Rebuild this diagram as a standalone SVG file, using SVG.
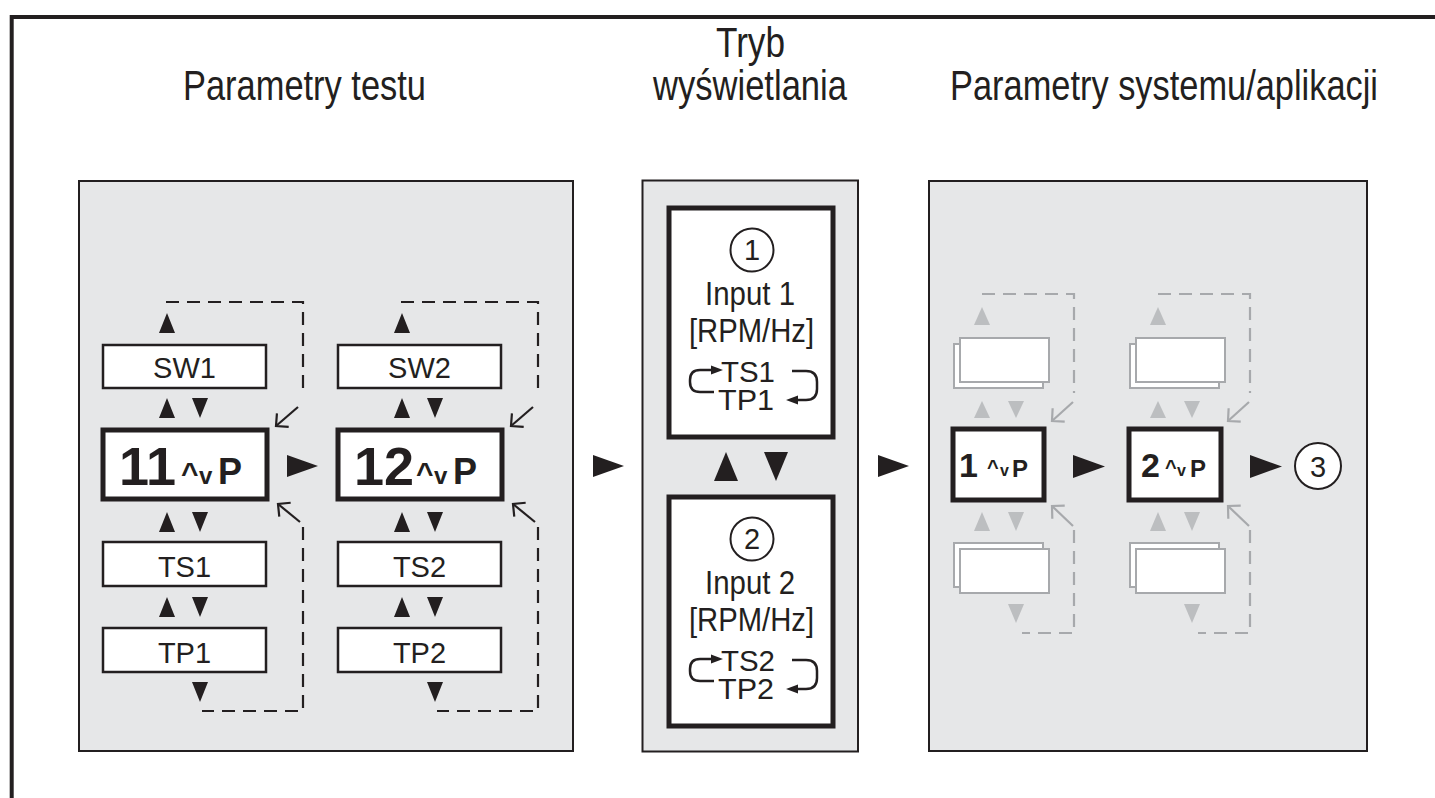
<svg xmlns="http://www.w3.org/2000/svg" width="1435" height="798" viewBox="0 0 1435 798">
<defs>
<style>
.frame{fill:none;stroke:#231f20;stroke-width:4}
.panel{fill:#e6e7e8;stroke:#231f20;stroke-width:2}
.box{fill:#fff;stroke:#231f20;stroke-width:2.5}
.thick{fill:#fff;stroke:#231f20;stroke-width:5}
.ghost{fill:#fff;stroke:#a7a9ac;stroke-width:2}
.tri{fill:#231f20}
.gtri{fill:#bcbec0}
.dash{fill:none;stroke:#231f20;stroke-width:2.2;stroke-dasharray:13 8}
.gdash{fill:none;stroke:#a7a9ac;stroke-width:2.2;stroke-dasharray:13 8}
.diag{fill:none;stroke:#231f20;stroke-width:2.2;marker-end:url(#open)}
.gdiag{fill:none;stroke:#a7a9ac;stroke-width:2.2;marker-end:url(#gopen)}
.loop{fill:none;stroke:#231f20;stroke-width:2.5}
.circ{fill:#fff;stroke:#231f20;stroke-width:2}
text{font-family:"Liberation Sans",Arial,sans-serif;fill:#231f20}
.title{font-size:42px}
.lbl{font-size:29px;text-anchor:middle}
.mid{font-size:34px}
.tstp{font-size:30px}
.num{font-size:29px;text-anchor:middle}
.b{font-weight:bold}
</style>
<marker id="open" markerUnits="userSpaceOnUse" markerWidth="24" markerHeight="24" viewBox="-12 -12 24 24" refX="0" refY="0" orient="auto">
<path d="M-9,-9 L0,0 L-9,9" fill="none" stroke="#231f20" stroke-width="2.2"/>
</marker>
<marker id="gopen" markerUnits="userSpaceOnUse" markerWidth="24" markerHeight="24" viewBox="-12 -12 24 24" refX="0" refY="0" orient="auto">
<path d="M-9,-9 L0,0 L-9,9" fill="none" stroke="#a7a9ac" stroke-width="2.2"/>
</marker>
</defs>

<rect x="0" y="0" width="1435" height="798" fill="#fff"/>
<path class="frame" d="M11.7 798 V17 H1435"/>

<g id="titles">
<text class="title" x="183" y="100" textLength="243" lengthAdjust="spacingAndGlyphs">Parametry testu</text>
<text class="title" x="716" y="57" textLength="69" lengthAdjust="spacingAndGlyphs">Tryb</text>
<text class="title" x="653" y="100" textLength="194" lengthAdjust="spacingAndGlyphs">wyświetlania</text>
<text class="title" x="950" y="100" textLength="428" lengthAdjust="spacingAndGlyphs">Parametry systemu/aplikacji</text>
</g>

<g id="panel-test"><rect class="panel" x="79" y="181" width="494" height="570"/></g>
<g id="panel-display"><rect class="panel" x="642.5" y="180.5" width="215.5" height="571"/></g>
<g id="panel-system"><rect class="panel" x="929" y="181" width="438" height="570"/></g>

<!-- left panel column 1 -->
<g id="sw1"><rect class="box" x="103" y="345" width="163" height="43"/><text class="lbl" x="184.5" y="378">SW1</text></g>
<g id="n11"><rect class="thick" x="103" y="430" width="164" height="69"/>
<text class="b" x="119" y="485" font-size="54">11</text>
<text class="b" x="181" y="483" font-size="30">^</text>
<text class="b" x="199" y="484" font-size="24">v</text>
<text class="b" x="218" y="484" font-size="36">P</text></g>
<g id="ts1"><rect class="box" x="103" y="542" width="163" height="44"/><text class="lbl" x="184.5" y="577">TS1</text></g>
<g id="tp1"><rect class="box" x="103" y="628" width="163" height="44"/><text class="lbl" x="184.5" y="663">TP1</text></g>

<!-- left panel column 2 -->
<g id="sw2"><rect class="box" x="338" y="345" width="163" height="43"/><text class="lbl" x="419.5" y="378">SW2</text></g>
<g id="n12"><rect class="thick" x="338" y="430" width="164" height="69"/>
<text class="b" x="354" y="485" font-size="54">12</text>
<text class="b" x="416" y="483" font-size="30">^</text>
<text class="b" x="434" y="484" font-size="24">v</text>
<text class="b" x="453" y="484" font-size="36">P</text></g>
<g id="ts2"><rect class="box" x="338" y="542" width="163" height="44"/><text class="lbl" x="419.5" y="577">TS2</text></g>
<g id="tp2"><rect class="box" x="338" y="628" width="163" height="44"/><text class="lbl" x="419.5" y="663">TP2</text></g>

<!-- middle panel -->
<g id="input1">
<rect class="thick" x="669" y="208" width="164" height="229"/>
<circle class="circ" cx="752" cy="250" r="21.5"/>
<text class="num" x="752" y="260">1</text>
<text class="mid" x="705" y="305" textLength="90" lengthAdjust="spacingAndGlyphs">Input 1</text>
<text class="mid" x="689" y="342" textLength="125" lengthAdjust="spacingAndGlyphs">[RPM/Hz]</text>
<text class="tstp" x="721" y="382" textLength="54" lengthAdjust="spacingAndGlyphs">TS1</text>
<text class="tstp" x="718" y="410" textLength="56" lengthAdjust="spacingAndGlyphs">TP1</text>
<path class="loop" d="M712 370 H700 Q690 370 690 380 V382 Q690 392 700 392 H714"/>
<polygon class="tri" points="723,370 711,365.5 711,374.5"/>
<path class="loop" d="M792 371 H806 Q817 371 817 382 V389 Q817 400 806 400 H797"/>
<polygon class="tri" points="786,400 798,395.5 798,404.5"/>
</g>
<g id="input2">
<rect class="thick" x="669" y="497" width="164" height="229"/>
<circle class="circ" cx="752" cy="539" r="21.5"/>
<text class="num" x="752" y="549">2</text>
<text class="mid" x="705" y="594" textLength="90" lengthAdjust="spacingAndGlyphs">Input 2</text>
<text class="mid" x="689" y="631" textLength="125" lengthAdjust="spacingAndGlyphs">[RPM/Hz]</text>
<text class="tstp" x="721" y="671" textLength="54" lengthAdjust="spacingAndGlyphs">TS2</text>
<text class="tstp" x="718" y="699" textLength="56" lengthAdjust="spacingAndGlyphs">TP2</text>
<path class="loop" d="M712 659 H700 Q690 659 690 669 V671 Q690 681 700 681 H714"/>
<polygon class="tri" points="723,659 711,654.5 711,663.5"/>
<path class="loop" d="M792 660 H806 Q817 660 817 671 V678 Q817 689 806 689 H797"/>
<polygon class="tri" points="786,689 798,684.5 798,693.5"/>
</g>

<!-- right panel -->
<g id="ghost-top-1"><rect class="ghost" x="954" y="344" width="89" height="44"/><rect class="ghost" x="960" y="338" width="89" height="44"/></g>
<g id="ghost-bottom-1"><rect class="ghost" x="954" y="543" width="89" height="44"/><rect class="ghost" x="960" y="549" width="89" height="44"/></g>
<g id="ghost-top-2"><rect class="ghost" x="1130" y="344" width="89" height="44"/><rect class="ghost" x="1136" y="338" width="89" height="44"/></g>
<g id="ghost-bottom-2"><rect class="ghost" x="1130" y="543" width="89" height="44"/><rect class="ghost" x="1136" y="549" width="89" height="44"/></g>
<g id="s1"><rect class="thick" x="953" y="429" width="91" height="71"/>
<text class="b" x="959" y="477" font-size="34">1</text>
<text class="b" x="987" y="474" font-size="20">^</text>
<text class="b" x="1000" y="476" font-size="16">v</text>
<text class="b" x="1012" y="477" font-size="24">P</text></g>
<g id="s2"><rect class="thick" x="1129" y="429" width="92" height="71"/>
<text class="b" x="1141" y="477" font-size="34">2</text>
<text class="b" x="1165" y="474" font-size="20">^</text>
<text class="b" x="1177" y="476" font-size="16">v</text>
<text class="b" x="1190" y="477" font-size="24">P</text></g>
<g id="c3"><circle class="circ" cx="1318" cy="466" r="23"/><text class="num" x="1318" y="477" font-size="30">3</text></g>

<g id="connectors">
<!-- left col 1 -->
<polygon class="tri" points="167,313 159,333 175,333"/>
<polygon class="tri" points="167,398 159,418 175,418"/>
<polygon class="tri" points="192,398 208,398 200,418"/>
<polygon class="tri" points="167,512 159,532 175,532"/>
<polygon class="tri" points="192,512 208,512 200,532"/>
<polygon class="tri" points="167,597 159,617 175,617"/>
<polygon class="tri" points="192,597 208,597 200,617"/>
<polygon class="tri" points="192,682 208,682 200,702"/>
<path class="dash" d="M166 302 H303 V394"/>
<path class="dash" d="M303 527 V711 H202"/>
<path class="diag" d="M298 407 L276 426"/>
<path class="diag" d="M300 522 L278 504"/>
<!-- left col 2 -->
<polygon class="tri" points="402,313 394,333 410,333"/>
<polygon class="tri" points="402,398 394,418 410,418"/>
<polygon class="tri" points="427,398 443,398 435,418"/>
<polygon class="tri" points="402,512 394,532 410,532"/>
<polygon class="tri" points="427,512 443,512 435,532"/>
<polygon class="tri" points="402,597 394,617 410,617"/>
<polygon class="tri" points="427,597 443,597 435,617"/>
<polygon class="tri" points="427,682 443,682 435,702"/>
<path class="dash" d="M401 302 H538 V394"/>
<path class="dash" d="M538 527 V711 H437"/>
<path class="diag" d="M533 407 L511 426"/>
<path class="diag" d="M535 522 L513 504"/>
<!-- flow arrows -->
<polygon class="tri" points="287,455 287,477 318,466"/>
<polygon class="tri" points="593,455 593,477 624,466"/>
<polygon class="tri" points="878,455 878,477 909,466"/>
<polygon class="tri" points="1073,455 1073,478 1105,466.5"/>
<polygon class="tri" points="1250,455 1250,478 1282,466.5"/>
<!-- middle -->
<polygon class="tri" points="726,452 714,481 738,481"/>
<polygon class="tri" points="764,452 788,452 776,481"/>
<!-- right col 1 -->
<polygon class="gtri" points="982,307 974,325 990,325"/>
<polygon class="gtri" points="982,401 974,418 990,418"/>
<polygon class="gtri" points="1008,401 1024,401 1016,418"/>
<polygon class="gtri" points="982,512 974,531 990,531"/>
<polygon class="gtri" points="1008,512 1024,512 1016,531"/>
<polygon class="gtri" points="1008,604 1024,604 1016,623"/>
<path class="gdash" d="M982 294 H1074 V393"/>
<path class="gdash" d="M1074 530 V633 H1022"/>
<path class="gdiag" d="M1073 402 L1052 421"/>
<path class="gdiag" d="M1073 526 L1052 506"/>
<!-- right col 2 -->
<polygon class="gtri" points="1158,307 1150,325 1166,325"/>
<polygon class="gtri" points="1158,401 1150,418 1166,418"/>
<polygon class="gtri" points="1184,401 1200,401 1192,418"/>
<polygon class="gtri" points="1158,512 1150,531 1166,531"/>
<polygon class="gtri" points="1184,512 1200,512 1192,531"/>
<polygon class="gtri" points="1184,604 1200,604 1192,623"/>
<path class="gdash" d="M1158 294 H1250 V393"/>
<path class="gdash" d="M1250 530 V633 H1198"/>
<path class="gdiag" d="M1249 402 L1228 421"/>
<path class="gdiag" d="M1249 526 L1228 506"/>
</g>
</svg>
